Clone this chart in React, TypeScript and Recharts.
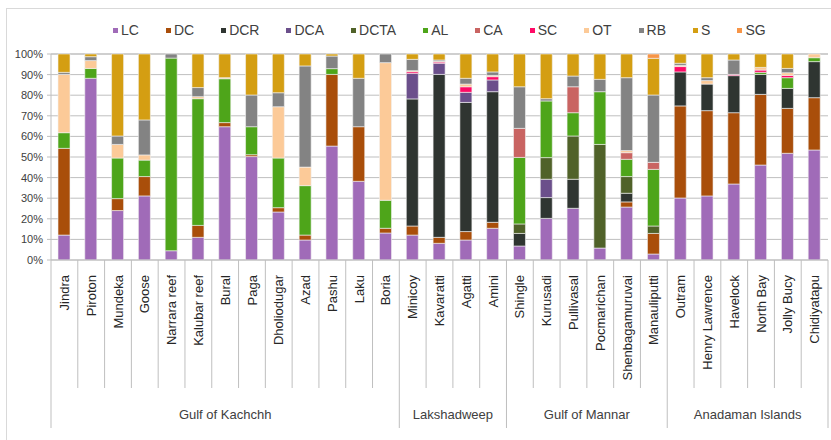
import React from "react";
import { BarChart, Bar, XAxis, YAxis, CartesianGrid, Legend } from "recharts";

const SITES = [
  "Jindra", "Piroton", "Mundeka", "Goose", "Narrara reef", "Kalubar reef", "Bural", "Paga",
  "Dholiodugar", "Azad", "Pashu", "Laku", "Boria",
  "Minicoy", "Kavaratti", "Agatti", "Amini",
  "Shingle", "Kurusadi", "Pullivasal", "Pocmarichan", "Shenbagamuruvai", "Manauliputti",
  "Outram", "Henry Lawrence", "Havelock", "North Bay", "Jolly Bucy", "Chidiyatapu",
];

const REGIONS = ["Gulf of Kachchh", "Lakshadweep", "Gulf of Mannar", "Anadaman Islands"];
const SITE_REGION = [
  0, 0, 0, 0, 0, 0, 0, 0, 0, 0, 0, 0, 0,
  1, 1, 1, 1,
  2, 2, 2, 2, 2, 2,
  3, 3, 3, 3, 3, 3,
];

const LC = [12.1, 88.2, 24.0, 31.1, 4.5, 11.0, 64.7, 50.2, 23.3, 9.7, 55.3, 38.2, 13.1, 12.1, 8.1, 9.7, 15.4, 6.8, 20.2, 25.1, 5.8, 25.7, 2.9, 30.1, 31.1, 36.9, 46.1, 51.8, 53.4];
const DC = [42.1, 0, 5.8, 9.4, 0, 5.8, 2.0, 0.9, 2.1, 2.4, 34.8, 26.5, 2.3, 4.4, 2.9, 4.1, 2.9, 0, 0, 0, 0, 2.5, 10.0, 44.7, 41.4, 34.6, 34.3, 21.8, 25.4];
const DCR = [0, 0, 0, 0, 0, 0, 0, 0, 0, 0, 0, 0, 0, 61.7, 79.1, 62.7, 63.4, 6.1, 10.1, 14.1, 0, 4.2, 0, 16.5, 12.9, 18.0, 9.7, 9.7, 17.5];
const DCA = [0, 0, 0, 0, 0, 0, 0, 0, 0, 0, 0, 0, 0, 12.4, 5.4, 4.9, 5.7, 0, 8.9, 0, 0, 0, 0, 0, 0, 0, 0, 0, 0];
const DCTA = [0, 0, 0, 0, 0, 0, 0, 0, 0, 0, 0, 0, 0, 0, 0, 0, 0, 4.6, 10.5, 21.0, 50.3, 8.1, 3.6, 0, 0, 0, 0, 0, 0];
const AL = [7.6, 4.8, 19.7, 8.0, 93.5, 61.5, 21.3, 13.6, 24.1, 24.0, 2.8, 0, 13.6, 0, 0, 0, 0, 32.3, 27.5, 11.3, 25.6, 8.4, 27.5, 0, 0, 0, 1.0, 5.2, 1.9];
const CA = [0, 0, 0, 0, 0, 0, 0, 0, 0, 0, 0, 0, 0, 0, 0, 0, 0, 14.1, 0, 12.6, 0, 3.2, 3.4, 0, 0, 0, 0, 0, 0];
const SC = [0, 0, 0, 0, 0, 0, 0, 0, 0, 0, 0, 0, 0, 0.8, 0.6, 2.7, 1.6, 0, 0, 0, 0, 0, 0, 2.6, 0, 0.6, 1.1, 1.1, 0];
const OT = [28.3, 3.8, 6.6, 2.5, 0, 1.0, 0.5, 0, 24.9, 9.0, 0, 0, 66.8, 0.5, 0.4, 1.3, 0.6, 0, 0, 0, 0, 1.0, 0, 0.6, 1.7, 0, 1.3, 1.3, 1.8];
const RB = [1.0, 1.9, 4.1, 17.0, 2.0, 4.4, 0, 15.4, 6.8, 49.1, 6.1, 23.5, 4.2, 5.5, 0.6, 2.8, 1.7, 20.2, 1.1, 5.2, 6.0, 35.4, 32.7, 1.0, 1.4, 7.0, 0, 2.1, 0];
const S = [8.9, 1.3, 39.8, 32.0, 0, 16.3, 11.5, 19.9, 18.8, 5.8, 1.0, 11.8, 0, 2.6, 2.9, 11.8, 8.7, 15.9, 21.7, 10.7, 12.3, 11.5, 17.8, 4.5, 11.5, 2.9, 6.5, 7.0, 0];
const SG = [0, 0, 0, 0, 0, 0, 0, 0, 0, 0, 0, 0, 0, 0, 0, 0, 0, 0, 0, 0, 0, 0, 2.1, 0, 0, 0, 0, 0, 0];

const SERIES_NAMES = ["LC", "DC", "DCR", "DCA", "DCTA", "AL", "CA", "SC", "OT", "RB", "S", "SG"];
const SERIES_VALUES = [LC, DC, DCR, DCA, DCTA, AL, CA, SC, OT, RB, S, SG];
const Y_TICKS = [0, 10, 20, 30, 40, 50, 60, 70, 80, 90, 100];

const COLORS: Record<string, string> = {
  LC: "#A06BB8",
  DC: "#A94E0A",
  DCR: "#2F3531",
  DCA: "#6B4F8B",
  DCTA: "#506229",
  AL: "#4EA51A",
  CA: "#C96462",
  SC: "#FF0A66",
  OT: "#FCCA98",
  RB: "#838383",
  S: "#D49E12",
  SG: "#F79547",
};

const data = SITES.map((site, i) => {
  const row: Record<string, any> = { site };
  SERIES_NAMES.forEach((name, k) => {
    row[name] = SERIES_VALUES[k][i];
  });
  return row;
});

const W = 831;
const H = 440;
const MARGIN = { top: 34, right: 3, left: 0, bottom: 0 };
const Y_AXIS_W = 51;
const PLOT_W = W - MARGIN.left - MARGIN.right - Y_AXIS_W;
const STEP = PLOT_W / SITES.length;
const FONT = "'Liberation Sans', Arial, sans-serif";
const GRID = "#BFBFBF";

function SiteTick(props: any) {
  const { x, y, index, payload } = props;
  const region = SITE_REGION[index];
  const left = x - STEP / 2;
  const isGroupStart = index === 0 || SITE_REGION[index - 1] !== region;
  const isLast = index === SITES.length - 1;
  let groupLabel = null;
  if (isGroupStart) {
    const count = SITE_REGION.filter((r) => r === region).length;
    const cx = left + (count * STEP) / 2;
    groupLabel = (
      <text x={cx} y={y + 159} textAnchor="middle" fontSize={13} fill="#404040" fontFamily={FONT}>
        {REGIONS[region]}
      </text>
    );
  }
  return (
    <g>
      <line x1={left} y1={y} x2={left} y2={y + (isGroupStart ? 168 : 128)} stroke={GRID} strokeWidth={1} />
      {isLast && <line x1={x + STEP / 2} y1={y} x2={x + STEP / 2} y2={y + 168} stroke={GRID} strokeWidth={1} />}
      <text
        transform={`translate(${x},${y + 15}) rotate(-90)`}
        textAnchor="end"
        dy="0.35em"
        fontSize={13}
        fill="#262626"
        fontFamily={FONT}
      >
        {payload.value}
      </text>
      {groupLabel}
    </g>
  );
}

function LegendContent() {
  return (
    <div style={{ display: "flex", alignItems: "center", height: 20, fontFamily: FONT, fontSize: 14, color: "#404040" }}>
      {SERIES_NAMES.map((name, i) => (
        <div key={name} style={{ display: "flex", alignItems: "center", marginRight: i === SERIES_NAMES.length - 1 ? 0 : 27 }}>
          <span style={{ display: "inline-block", width: 5, height: 5, background: COLORS[name], marginRight: 3 }} />
          <span style={{ lineHeight: "20px" }}>{name}</span>
        </div>
      ))}
    </div>
  );
}

export default function App() {
  return (
    <div style={{ position: "absolute", left: 0, top: 0, width: W, height: H, overflow: "hidden", background: "#fff" }}>
      <div style={{ position: "absolute", left: 6, top: 8, width: 900, height: 500, border: "1px solid #D9D9D9", boxSizing: "border-box" }} />
      <div style={{ position: "absolute", left: 0, top: 0 }}>
        <BarChart width={W} height={H} data={data} margin={MARGIN} barSize={12}>
          <CartesianGrid vertical={false} stroke={GRID} strokeWidth={1} />
          <Legend
            verticalAlign="top"
            content={() => <LegendContent />}
            wrapperStyle={{ top: 20, left: 113, width: "auto", height: 20 }}
          />
          <XAxis
            dataKey="site"
            type="category"
            interval={0}
            height={180}
            tickLine={false}
            tickSize={0}
            tickMargin={0}
            axisLine={{ stroke: GRID }}
            tick={<SiteTick />}
          />
          <YAxis
            type="number"
            domain={[0, 100]}
            ticks={Y_TICKS}
            width={Y_AXIS_W}
            tickSize={4}
            tickMargin={4}
            tickLine={{ stroke: GRID }}
            axisLine={{ stroke: GRID }}
            tickFormatter={(v: number) => `${v}%`}
            tick={{ fontSize: 11, fill: "#404040", fontFamily: FONT }}
            interval={0}
          />
          {SERIES_NAMES.map((name) => (
            <Bar
              key={name}
              dataKey={name}
              stackId="a"
              fill={COLORS[name]}
              stroke="#F2F2F2"
              strokeWidth={0.6}
              isAnimationActive={false}
            />
          ))}
        </BarChart>
      </div>
    </div>
  );
}
